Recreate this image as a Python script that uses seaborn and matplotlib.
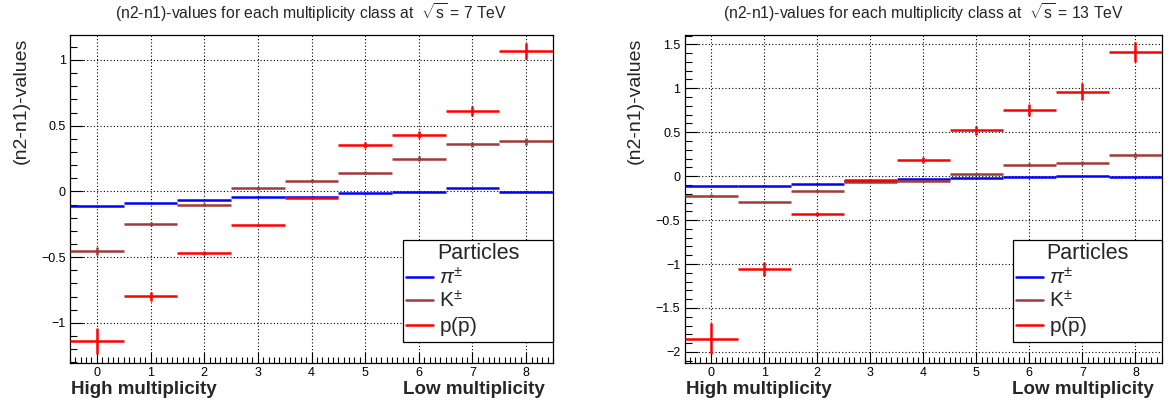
import matplotlib
matplotlib.use("Agg")
import matplotlib.pyplot as plt
import seaborn as sns
import pandas as pd
from matplotlib.lines import Line2D
from matplotlib.ticker import MultipleLocator, FuncFormatter

# ---------------- data ----------------
classes = [0, 1, 2, 3, 4, 5, 6, 7, 8]

pion_7 = [-0.114, -0.091, -0.065, -0.040, -0.040, -0.015, -0.002, 0.023, -0.002]
pion_7_err = [0.004, 0.003, 0.003, 0.003, 0.003, 0.003, 0.003, 0.003, 0.003]
kaon_7 = [-0.456, -0.248, -0.101, 0.023, 0.081, 0.142, 0.248, 0.357, 0.380]
kaon_7_err = [0.030, 0.012, 0.010, 0.010, 0.010, 0.012, 0.020, 0.020, 0.025]
proton_7 = [-1.140, -0.798, -0.468, -0.255, -0.050, 0.352, 0.431, 0.611, 1.067]
proton_7_err = [0.100, 0.035, 0.015, 0.010, 0.010, 0.023, 0.025, 0.035, 0.063]

pion_13 = [-0.111, -0.107, -0.084, -0.050, -0.031, -0.023, -0.004, 0.004, -0.015]
pion_13_err = [0.003, 0.003, 0.003, 0.003, 0.003, 0.003, 0.003, 0.003, 0.003]
kaon_13 = [-0.221, -0.297, -0.164, -0.061, -0.054, 0.022, 0.129, 0.148, 0.236]
kaon_13_err = [0.015, 0.012, 0.012, 0.010, 0.010, 0.012, 0.015, 0.020, 0.030]
proton_13 = [-1.849, -1.058, -0.430, -0.042, 0.182, 0.521, 0.749, 0.962, 1.415]
proton_13_err = [0.180, 0.078, 0.020, 0.010, 0.034, 0.048, 0.070, 0.095, 0.114]

particles = [r"$\pi^{\pm}$", r"$\mathrm{K}^{\pm}$", r"$\mathrm{p}(\overline{\mathrm{p}})$"]
colors = ["#0000ff", "#9e3b3b", "#ff0000"]

titles = [r"(n2-n1)-values for each multiplicity class at  $\sqrt{\mathrm{s}}$ = 7 TeV",
          r"(n2-n1)-values for each multiplicity class at  $\sqrt{\mathrm{s}}$ = 13 TeV"]
ylabel = "(n2-n1)-values"
xlabel_left = "High multiplicity"
xlabel_right = "Low multiplicity"
legend_title = "Particles"

# ---------------- style ----------------
sns.set_theme(style="ticks")
plt.rcParams["font.family"] = ["Liberation Sans", "DejaVu Sans"]
plt.rcParams["mathtext.fontset"] = "custom"
plt.rcParams["mathtext.rm"] = "Liberation Sans"
plt.rcParams["mathtext.it"] = "Liberation Sans:italic"
plt.rcParams["mathtext.bf"] = "Liberation Sans:bold"

W, H = 1170, 408
fig = plt.figure(figsize=(W / 100, H / 100), dpi=100)
fig.patch.set_facecolor("white")

panels = [
    dict(left=70, right=553, ylim=(-1.306, 1.19), leg_left=403,
         data=[(pion_7, pion_7_err), (kaon_7, kaon_7_err), (proton_7, proton_7_err)]),
    dict(left=684.5, right=1162, ylim=(-2.126, 1.606), leg_left=1012.7,
         data=[(pion_13, pion_13_err), (kaon_13, kaon_13_err), (proton_13, proton_13_err)]),
]
top_px, bot_px = 35, 363

fmt = FuncFormatter(lambda v, p: ("%g" % round(v, 6)).replace("-", "\u2212"))

for i, pnl in enumerate(panels):
    ax = fig.add_axes([pnl["left"] / W, 1 - bot_px / H,
                       (pnl["right"] - pnl["left"]) / W, (bot_px - top_px) / H])
    ax.set_facecolor("white")
    for (vals, errs), lab, col in zip(pnl["data"], particles, colors):
        df = pd.DataFrame({"cls": classes, "val": vals, "err": errs})
        ax.errorbar(df["cls"], df["val"], xerr=0.5, yerr=df["err"], fmt="none",
                    ecolor=col, elinewidth=1.8, capsize=0, zorder=3)
    ax.set_xlim(-0.5, 8.5)
    ax.set_ylim(*pnl["ylim"])
    ax.xaxis.set_major_locator(MultipleLocator(1))
    ax.xaxis.set_minor_locator(MultipleLocator(0.1))
    ax.yaxis.set_major_locator(MultipleLocator(0.5))
    ax.yaxis.set_minor_locator(MultipleLocator(0.1))
    ax.yaxis.set_major_formatter(fmt)
    ax.tick_params(axis="both", which="both", direction="in", top=False, right=False,
                   colors="black", labelsize=9)
    ax.tick_params(axis="x", which="major", length=8, width=0.8, pad=3)
    ax.tick_params(axis="x", which="minor", length=4, width=0.8)
    ax.tick_params(axis="y", which="major", length=9, width=0.8, pad=3)
    ax.tick_params(axis="y", which="minor", length=5, width=0.8)
    ax.grid(True, which="major", color="black", linestyle=(0, (1, 2)), linewidth=0.8)
    ax.set_axisbelow(True)
    for s in ax.spines.values():
        s.set_color("black")
        s.set_linewidth(0.9)
        s.set_visible(True)

    handles = [Line2D([], [], color=c, lw=1.8) for c in colors]
    lx = (pnl["leg_left"] - pnl["left"]) / (pnl["right"] - pnl["left"])
    leg = ax.legend(handles, particles, title=legend_title, loc="upper left",
                    bbox_to_anchor=(lx, 0.0, 1 - lx, 0.375),
                    mode="expand", borderaxespad=0, fontsize=15, title_fontsize=15.5,
                    handlelength=1.3, handletextpad=0.3, labelspacing=0.12,
                    borderpad=0.15, fancybox=False, framealpha=1, edgecolor="black",
                    alignment="center")
    leg.get_frame().set_linewidth(0.9)

    cx = (pnl["left"] + pnl["right"]) / 2
    fig.text(cx / W, 1 - 13 / H, titles[i], ha="center", va="center", fontsize=11.3)
    fig.text((pnl["left"] - 49) / W, 1 - 101 / H, ylabel, rotation=90,
             ha="center", va="center", fontsize=14)
    fig.text((pnl["left"] + 1) / W, 1 - 389 / H, xlabel_left, ha="left", va="center",
             fontsize=13.5, fontweight="bold")
    fig.text((pnl["right"] - 8) / W, 1 - 389 / H, xlabel_right, ha="right", va="center",
             fontsize=13.5, fontweight="bold")

fig.savefig("out.png", dpi=100, facecolor="white")
